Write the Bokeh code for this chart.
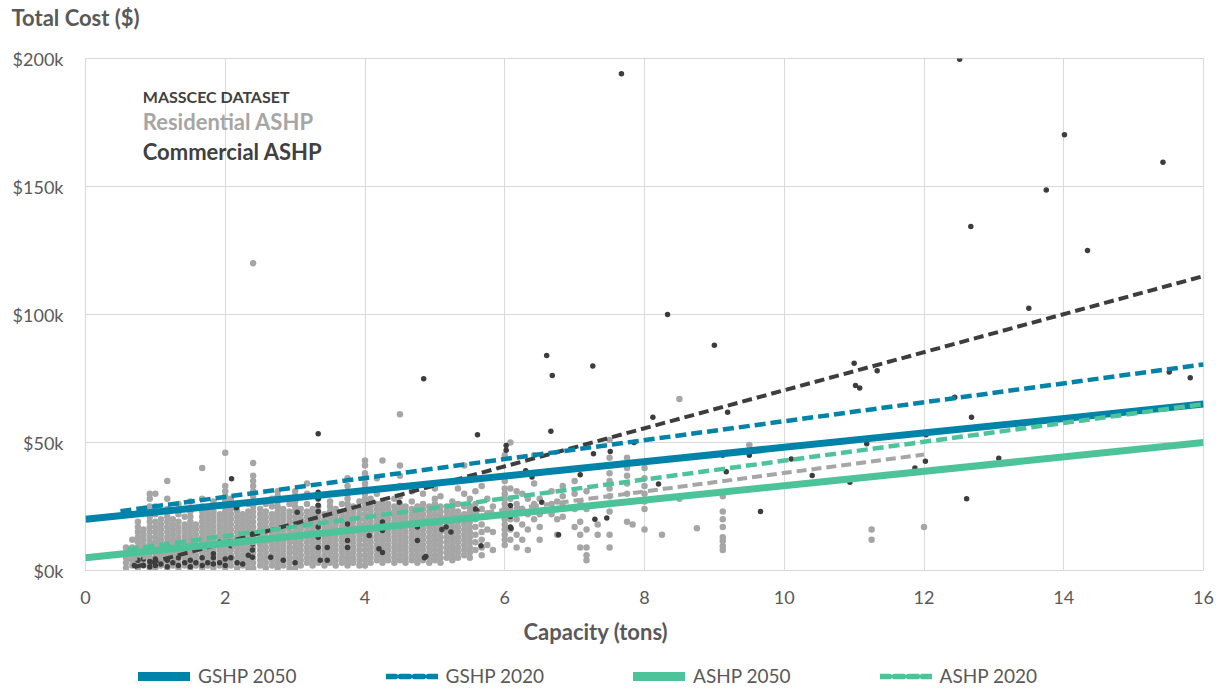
from bokeh.plotting import figure
from bokeh.layouts import column
from bokeh.models import Legend, LegendItem, Label, FixedTicker, Title, Range1d
from bokeh.embed import file_html
from bokeh.resources import INLINE

# ---------------- data (cost in $k, capacity in tons) ----------------
x_ticks = [0, 2, 4, 6, 8, 10, 12, 14, 16]
y_ticks = [0, 50, 100, 150, 200]
y_tick_labels = ["$0k", "$50k", "$100k", "$150k", "$200k"]

# MassCEC residential ASHP installs: capacity -> list of costs ($k)
residential = {
    0.58: [1, 3, 5, 7, 9],
    0.67: [2, 4, 6, 9, 12],
    0.75: [1, 3, 5, 7, 9, 11, 13, 15, 17, 19],
    0.83: [2, 4, 6, 8, 10, 12, 14, 16],
    0.92: [1, 3, 5, 7, 9, 11, 13, 15, 17, 19, 21, 23, 25, 28, 30],
    1.0: [1, 3, 5, 7, 9, 11, 13, 15, 17, 19, 22, 25, 30],
    1.08: [2, 4, 6, 8, 10, 12, 14, 16, 18, 20],
    1.17: [1, 3, 5, 7, 9, 11, 13, 15, 17, 19, 21, 24, 28, 35],
    1.25: [2, 4, 6, 8, 10, 12, 14, 16, 18, 20],
    1.33: [1, 3, 5, 7, 9, 11, 13, 15, 17, 19, 22, 26],
    1.42: [2, 4, 6, 8, 10, 12, 14, 16, 18, 21],
    1.5: [1, 3, 5, 7, 9, 11, 13, 15, 17, 19, 21, 23, 27],
    1.58: [2, 4, 6, 8, 10, 12, 14, 16, 18],
    1.67: [1, 3, 5, 7, 9, 11, 13, 15, 17, 19, 21, 23, 25, 28, 40],
    1.75: [2, 4, 6, 8, 10, 12, 14, 16, 18, 20, 22, 24],
    1.83: [1, 3, 5, 7, 9, 11, 13, 15, 17, 19, 21, 23, 25, 27],
    1.92: [2, 4, 6, 8, 10, 12, 14, 16, 18, 20, 22],
    2.0: [1, 3, 5, 7, 9, 11, 13, 15, 17, 19, 21, 23, 25, 27, 29, 31, 33, 46],
    2.08: [2, 4, 6, 8, 10, 12, 14, 16, 18, 20, 22, 24, 28],
    2.17: [1, 3, 5, 7, 9, 11, 13, 15, 17, 19, 21, 23, 25],
    2.25: [2, 4, 6, 8, 10, 12, 14, 16, 18, 20, 22],
    2.33: [1, 3, 5, 7, 9, 11, 13, 15, 17, 19, 21, 23, 26],
    2.4: [1, 3, 5, 7, 9, 11, 13, 15, 17, 19, 21, 23, 25, 27, 29, 31, 33, 35, 37, 42, 120],
    2.5: [2, 4, 6, 8, 10, 12, 14, 16, 18, 20, 22, 24],
    2.58: [1, 3, 5, 7, 9, 11, 13, 15, 17, 19, 21, 23, 26],
    2.67: [2, 4, 6, 8, 10, 12, 14, 16, 18, 20, 22, 25, 28],
    2.75: [1, 3, 5, 7, 9, 11, 13, 15, 17, 19, 21, 23, 25, 27, 29, 31],
    2.83: [2, 4, 6, 8, 10, 12, 14, 16, 18, 20, 22, 24],
    2.92: [1, 3, 5, 7, 9, 11, 13, 15, 17, 19, 21, 23, 26],
    3.0: [1, 3, 5, 7, 9, 11, 13, 15, 17, 19, 21, 23, 25, 27, 29, 31],
    3.08: [2, 4, 6, 8, 10, 12, 14, 16, 18, 20, 22, 24],
    3.17: [3, 5, 7, 9, 11, 13, 15, 17, 19, 21, 23, 26, 30, 34],
    3.25: [2, 4, 6, 8, 10, 12, 14, 16, 18, 20, 22, 24],
    3.33: [3, 5, 7, 9, 11, 13, 15, 17, 19, 21, 23, 25, 28],
    3.42: [2, 4, 6, 8, 10, 12, 14, 16, 18, 20, 22],
    3.5: [3, 5, 7, 9, 11, 13, 15, 17, 19, 21, 23, 25, 27, 30],
    3.58: [2, 4, 6, 8, 10, 12, 14, 16, 18, 20, 22, 24],
    3.67: [3, 5, 7, 9, 11, 13, 15, 17, 19, 21, 23, 26],
    3.75: [2, 4, 6, 8, 10, 12, 14, 16, 18, 20, 22, 24, 26, 28, 30, 33, 36],
    3.83: [3, 5, 7, 9, 11, 13, 15, 17, 19, 21, 23, 25],
    3.92: [2, 4, 6, 8, 10, 12, 14, 16, 18, 20, 22, 24, 27],
    4.0: [2, 4, 6, 8, 10, 12, 14, 16, 18, 20, 22, 24, 26, 28, 30, 32, 34, 36, 38, 41, 43],
    4.08: [3, 5, 7, 9, 11, 13, 15, 17, 19, 21, 23, 25, 28],
    4.17: [4, 6, 8, 10, 12, 14, 16, 18, 20, 22, 24, 26, 30, 36],
    4.25: [3, 5, 7, 9, 11, 13, 15, 17, 19, 21, 23, 25, 27, 43],
    4.33: [4, 6, 8, 10, 12, 14, 16, 18, 20, 22, 24, 26],
    4.42: [3, 5, 7, 9, 11, 13, 15, 17, 19, 21, 23, 25, 28],
    4.5: [4, 6, 8, 10, 12, 14, 16, 18, 20, 22, 24, 26, 29, 33, 37, 41, 61],
    4.58: [3, 5, 7, 9, 11, 13, 15, 17, 19, 21, 23, 25],
    4.67: [4, 6, 8, 10, 12, 14, 16, 18, 20, 22, 24, 27, 31],
    4.75: [3, 5, 7, 9, 11, 13, 15, 17, 19, 21, 23, 25],
    4.83: [4, 6, 8, 10, 12, 14, 16, 18, 20, 22, 24, 26, 30],
    4.92: [3, 5, 7, 9, 11, 13, 15, 17, 19, 21, 23, 25],
    5.0: [4, 6, 8, 10, 12, 14, 16, 18, 20, 22, 24, 26, 28, 32],
    5.08: [3, 5, 7, 9, 11, 13, 15, 17, 19, 21, 23, 25, 29],
    5.17: [5, 7, 9, 11, 13, 15, 17, 19, 21, 23, 25],
    5.25: [4, 6, 8, 10, 12, 14, 16, 18, 20, 22, 24, 27],
    5.33: [5, 7, 9, 11, 13, 15, 17, 19, 21, 23, 26, 32],
    5.42: [6, 8, 10, 12, 14, 16, 18, 20, 22, 25, 30, 41],
    5.5: [5, 7, 9, 11, 13, 15, 17, 19, 21, 23, 25, 28],
    5.58: [8, 11, 14, 17, 20, 23, 26, 31],
    5.67: [6, 9, 12, 15, 18, 21, 24, 33],
    5.75: [10, 16, 22, 28],
    5.83: [8, 15, 25],
    6.0: [10, 12, 14, 16, 18, 20, 22, 24, 26, 28, 30, 32, 35, 45],
    6.08: [12, 16, 20, 24, 28, 32, 50],
    6.17: [9, 14, 20, 26, 31],
    6.25: [12, 18, 24, 30],
    6.33: [8, 16, 22, 28],
    6.42: [20, 26, 34, 45],
    6.5: [12, 17, 22, 28],
    6.67: [22, 26, 31],
    6.75: [14, 20, 27],
    6.83: [21, 25, 29, 33],
    7.0: [17, 24, 30, 35],
    7.08: [9, 14, 19, 27],
    7.17: [4, 6, 9, 16, 24, 31],
    7.33: [14, 18],
    7.5: [9, 14, 23, 26, 29, 32, 35, 38, 41, 44, 51],
    7.75: [19, 30, 34, 37, 40, 44],
    7.83: [18],
    8.0: [16, 24, 27, 30, 33, 36, 40],
    8.25: [14],
    8.5: [28, 67],
    8.75: [16.5],
    9.12: [8, 9.5, 11.5, 13, 17, 20, 23, 29],
    9.5: [49],
    11.25: [12, 16],
    12.0: [17],
}

# MassCEC commercial ASHP installs
commercial_tons = [0.7, 0.75, 0.83, 0.83, 0.92, 0.92, 1.0, 1.0, 1.08, 1.17, 1.17, 1.25, 1.33, 1.33,
                   1.42, 1.5, 1.5, 1.58, 1.67, 1.67, 1.75, 1.83, 1.83, 1.83, 1.92, 1.92, 2.0, 2.0,
                   2.08, 2.08, 2.09, 2.16, 2.17, 2.25, 2.33, 2.39, 2.39, 2.39, 2.39, 2.65, 2.83, 3.0,
                   3.03, 3.33, 3.33, 3.33, 3.33, 3.33, 3.33, 3.33, 3.33, 3.36, 3.46, 3.46, 3.75, 3.75,
                   3.75, 4.06, 4.2, 4.25, 4.25, 4.25, 4.49, 4.75, 4.75, 4.84, 4.85, 4.87, 5.1, 5.16,
                   5.23, 5.58, 5.6, 5.61, 5.66, 6.02, 6.02, 6.08, 6.08, 6.08, 6.09, 6.3, 6.39, 6.53,
                   6.6, 6.61, 6.66, 6.68, 6.77, 7.08, 7.26, 7.27, 7.29, 7.46, 7.51, 7.67, 7.85, 8.12,
                   8.2, 8.33, 9.0, 9.12, 9.17, 9.19, 9.5, 9.66, 10.1, 10.4, 10.94, 11.0, 11.02, 11.08,
                   11.18, 11.33, 11.87, 12.02, 12.03, 12.44, 12.51, 12.61, 12.67, 12.68, 13.07, 13.5,
                   13.75, 14.01, 14.34, 15.42, 15.51, 15.81]
commercial_cost = [2, 4, 2, 4.5, 1.5, 3.5, 2, 4.5, 2.5, 1.5, 4, 3, 2, 5,
                   3, 1.5, 4, 3, 2, 5, 3, 2.5, 5, 6.5, 3, 11, 2, 4.5,
                   5, 9.7, 35.8, 24.5, 3, 2.5, 6, 14.3, 10.4, 8, 5.2, 5.2, 4, 3,
                   22.8, 53.4, 30.6, 28, 25.5, 23, 17, 13, 9, 4, 9, 4, 18.2, 11.7,
                   9, 13.7, 8.5, 18.9, 15.6, 7, 26.7, 11.7, 17, 74.9, 5, 5.5, 16, 17,
                   15, 24, 23.4, 53, 9.7, 48.8, 47, 25.4, 21.1, 17, 16.5, 39, 36.5, 26.7,
                   84, 23.4, 54.4, 76.2, 14, 37.4, 79.9, 45.6, 20, 20.5, 46.5, 194, 50, 59.9,
                   33.8, 100, 88, 45, 38.6, 61.8, 45, 23, 43.6, 37.1, 34.5, 81, 72.3, 71.3,
                   49.5, 78, 40, 42.7, 53, 67.7, 199.7, 28, 134.4, 59.9, 43.8, 102.4,
                   148.6, 170.2, 125, 159.5, 77.5, 75.3]

# trend lines (endpoints)
gshp2050_x, gshp2050_y = [0, 16], [20, 65]
gshp2020_x, gshp2020_y = [0.5, 16], [23.2, 80.5]
ashp2050_x, ashp2050_y = [0, 16], [5, 50]
ashp2020_x, ashp2020_y = [0.6, 16], [8.3, 65]
res_trend_x, res_trend_y = [0.6, 12], [4.2, 45.3]
com_trend_x, com_trend_y = [0.7, 16], [1.3, 115]

series_names = ["GSHP 2050", "GSHP 2020", "ASHP 2050", "ASHP 2020"]

# ---------------- styling ----------------
FONT = "Lato"
TXT = "#595959"
BLUE = "#0083A9"
GREEN = "#4DC39A"
DARK = "#3D3D3D"
GRAY = "#A6A6A6"
GRID = "#D9D9D9"

res_x, res_y = [], []
for cap, costs in residential.items():
    for c in costs:
        res_x.append(cap)
        res_y.append(c)


def strip(height, top):
    f = figure(width=1220, height=height, output_backend="svg", toolbar_location=None,
               x_axis_location=None, y_axis_location=None,
               x_range=Range1d(0, 1), y_range=Range1d(0, 1),
               min_border_left=0, min_border_right=0, min_border_top=top, min_border_bottom=0,
               outline_line_color=None, background_fill_color="white", border_fill_color="white")
    f.xgrid.visible = False
    f.ygrid.visible = False
    return f


# ---------------- title strip ----------------
tf = strip(36, 34)
tf.title = Title(text="Total Cost ($)", align="left", offset=-74, standoff=4, vertical_align="top",
                 text_font=FONT, text_font_size="22px", text_font_style="bold", text_color=TXT)

# ---------------- main chart ----------------
p = figure(width=1220, height=574, output_backend="svg", toolbar_location=None,
           x_range=Range1d(0, 16), y_range=Range1d(0, 200),
           min_border_left=85, min_border_right=17, min_border_top=22, min_border_bottom=40,
           background_fill_color="white", border_fill_color="white")

p.outline_line_color = GRID
p.xgrid.grid_line_color = GRID
p.ygrid.grid_line_color = GRID
p.xaxis.ticker = FixedTicker(ticks=x_ticks)
p.yaxis.ticker = FixedTicker(ticks=y_ticks)
p.yaxis.major_label_overrides = {t: l for t, l in zip(y_ticks, y_tick_labels)}
for ax in (p.xaxis[0], p.yaxis[0]):
    ax.major_tick_line_color = None
    ax.minor_tick_line_color = None
    ax.major_label_text_font = FONT
    ax.major_label_text_font_size = "18px"
    ax.major_label_text_color = TXT
p.yaxis.axis_line_color = None
p.xaxis.axis_line_color = GRID
p.yaxis.major_label_standoff = 16
p.xaxis.major_label_standoff = 14

p.scatter(res_x, res_y, size=6.5, color=GRAY, line_color=None)
p.scatter(commercial_tons, commercial_cost, size=5.5, color=DARK, line_color=None)

p.line(res_trend_x, res_trend_y, line_color=GRAY, line_width=4, line_dash="10 5")
p.line(com_trend_x, com_trend_y, line_color=DARK, line_width=4, line_dash="10 5")
p.line(ashp2050_x, ashp2050_y, line_color=GREEN, line_width=7)
p.line(gshp2050_x, gshp2050_y, line_color=BLUE, line_width=7)
p.line(ashp2020_x, ashp2020_y, line_color=GREEN, line_width=4.5, line_dash="11 5")
p.line(gshp2020_x, gshp2020_y, line_color=BLUE, line_width=4.5, line_dash="11 5")

p.add_layout(Label(x=0.82, y=185.2, text="MASSCEC DATASET", text_font=FONT, text_font_size="16px",
                   text_font_style="bold", text_color="#404040", text_baseline="middle"))
p.add_layout(Label(x=0.82, y=175.4, text="Residential ASHP", text_font=FONT, text_font_size="22px",
                   text_font_style="bold", text_color=GRAY, text_baseline="middle"))
p.add_layout(Label(x=0.82, y=163.7, text="Commercial ASHP", text_font=FONT, text_font_size="22px",
                   text_font_style="bold", text_color="#404040", text_baseline="middle"))

# ---------------- axis title + legend strip below the chart ----------------
lf = strip(79, 39)
lf.title = Title(text="Capacity (tons)", align="left", offset=438, standoff=6, vertical_align="top",
                 text_font=FONT, text_font_size="22px", text_font_style="bold", text_color=TXT)
# the series lines lie outside this strip's 0..1 ranges; they only feed the legend glyphs
g50 = lf.line(gshp2050_x, gshp2050_y, line_color=BLUE, line_width=9, line_cap="round")
g20 = lf.line(gshp2020_x, gshp2020_y, line_color=BLUE, line_width=5.5, line_dash="9 5", line_cap="round")
a50 = lf.line(ashp2050_x, ashp2050_y, line_color=GREEN, line_width=9, line_cap="round")
a20 = lf.line(ashp2020_x, ashp2020_y, line_color=GREEN, line_width=5.5, line_dash="9 5", line_cap="round")
legend = Legend(items=[LegendItem(label=series_names[0], renderers=[g50]),
                       LegendItem(label=series_names[1], renderers=[g20]),
                       LegendItem(label=series_names[2], renderers=[a50]),
                       LegendItem(label=series_names[3], renderers=[a20])],
                orientation="horizontal", location=(53, 2), glyph_width=52, glyph_height=20,
                label_standoff=8, spacing=89, padding=0, margin=0,
                label_text_font=FONT, label_text_font_size="19px", label_text_color=TXT,
                border_line_color=None, background_fill_alpha=0)
lf.add_layout(legend, "center")

open("out.html", "w").write(file_html(column(tf, p, lf, spacing=0), INLINE))
